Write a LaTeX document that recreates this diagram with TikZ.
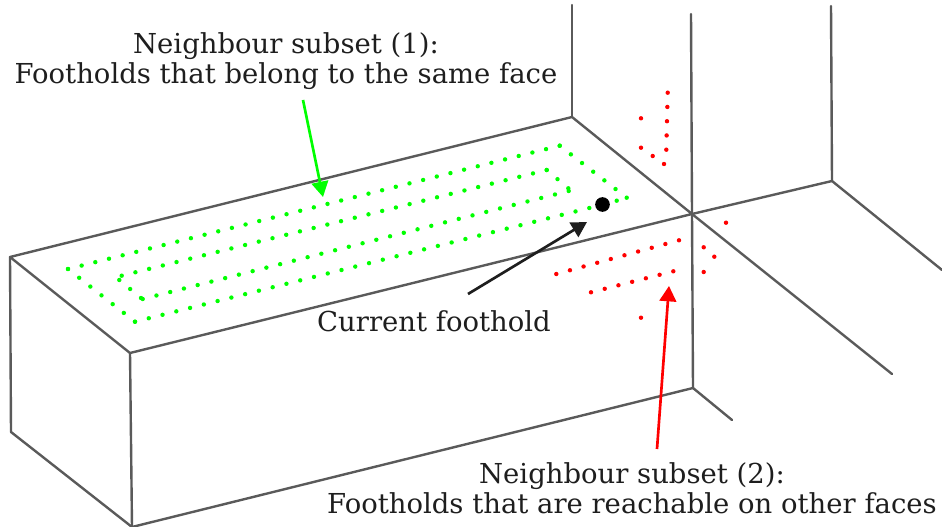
\documentclass[tikz,border=0pt]{standalone}
\usepackage{fontspec}
\setmainfont{DejaVu Serif}
\usetikzlibrary{arrows.meta}
\definecolor{edgegray}{RGB}{90,90,90}
\definecolor{gdot}{RGB}{0,255,0}
\definecolor{rdot}{RGB}{255,0,0}
\definecolor{txt}{RGB}{30,30,30}
\tikzset{
  edge/.style={draw=edgegray,line width=1.8pt,line cap=round,line join=round},
  lbl/.style={font=\fontsize{20.6}{22.6}\selectfont,text=txt,align=center,inner sep=0pt},
  arr/.style={line width=2pt,-{Triangle[length=11.5pt,width=12.5pt]}},
}
\newcommand{\dotat}[3]{\fill[#1] (#2,#3) circle[radius=1.65pt];}
\newcommand{\dotrow}[6]{% colour, x0,y0,x1,y1,steps
  \foreach \i in {0,...,#6}{
    \pgfmathsetmacro{\px}{#2+(#4-#2)/#6*\i}
    \pgfmathsetmacro{\py}{#3+(#5-#3)/#6*\i}
    \dotat{#1}{\px}{\py}
  }}
\begin{document}
\begin{tikzpicture}[x=0.75pt,y=-0.75pt]
\useasboundingbox (0,0) rectangle (942,527);
% box and walls
\coordinate (tl) at (10,257);
\coordinate (tb) at (572,117);
\coordinate (fr) at (692,214);
\coordinate (fl) at (130,353);
\coordinate (bl) at (11,432);
\coordinate (bf) at (132,527);
\coordinate (br) at (693,388);
\coordinate (er) at (732,420);
\coordinate (tbup) at (572,5);
\coordinate (frup) at (691,14);
\coordinate (wc) at (832,181);
\coordinate (wcup) at (831,6);
\coordinate (wcr) at (942,270);
\coordinate (frr) at (892,374);
\draw[edge] (tl)--(tb)--(fr)--(fl)--cycle;
\draw[edge] (tl)--(bl)--(bf)--(br)--(fr);
\draw[edge] (fl)--(bf);
\draw[edge] (br)--(er);
\draw[edge] (tb)--(tbup);
\draw[edge] (fr)--(frup);
\draw[edge] (fr)--(wc)--(wcup);
\draw[edge] (wc)--(wcr);
\draw[edge] (fr)--(frr);
% green dots
\dotrow{gdot}{68}{269}{559.7}{145.7}{36}
\dotrow{gdot}{559.7}{145.7}{626.7}{197.7}{6}
\dotat{gdot}{616.7}{200.7}
\dotrow{gdot}{589.3}{208}{135}{321.7}{33}
\dotrow{gdot}{135}{321.7}{68}{269}{6}
\dotrow{gdot}{121.7}{275.7}{546.7}{170}{31}
\dotrow{gdot}{546.7}{170}{568.3}{188.3}{2}
\dotrow{gdot}{568.7}{191}{142.7}{299}{31}
\dotrow{gdot}{141}{298}{119.3}{280}{2}
% red dots
\dotrow{rdot}{556.3}{274}{679}{240.3}{9}
\dotrow{rdot}{591}{292.3}{673.3}{271.3}{6}
\dotrow{rdot}{667.7}{92.7}{666.3}{149.7}{4}
\dotat{rdot}{641}{118.3}
\dotat{rdot}{641}{147.7}
\dotat{rdot}{652.7}{156}
\dotat{rdot}{664}{164}
\dotat{rdot}{726}{222.7}
\dotat{rdot}{703.7}{247.3}
\dotat{rdot}{714.3}{256.7}
\dotat{rdot}{703.7}{272}
\dotat{rdot}{641}{317.7}
% foothold
\node[circle,fill=black,minimum size=11pt,inner sep=0pt] (foot) at (602.5,204.5) {};
% labels
\node[lbl] (n1) at (286,61.5) {Neighbour subset (1):\\Footholds that belong to the same face};
\node[lbl] (cf) at (434,321) {Current foothold};
\node[lbl] (n2) at (632,488) {Neighbour subset (2):\\Footholds that are reachable on other faces};
% arrows
\coordinate (g0) at (303,100);
\coordinate (g1) at (323,197);
\coordinate (k0) at (468,294);
\coordinate (k1) at (587,222);
\coordinate (r0) at (657,449);
\coordinate (r1) at (669,286);
\draw[arr,gdot] (g0)--(g1);
\draw[arr,txt] (k0)--(k1);
\draw[arr,rdot] (r0)--(r1);
\end{tikzpicture}
\end{document}
